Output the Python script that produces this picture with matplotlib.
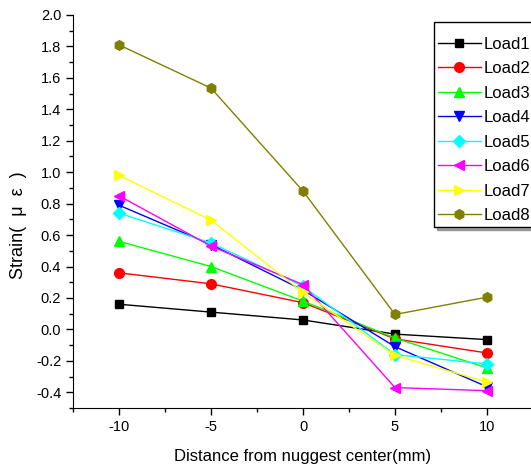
import matplotlib
matplotlib.use('Agg')
import matplotlib.pyplot as plt
from matplotlib.ticker import MultipleLocator

plt.rcParams['font.family'] = ['Liberation Sans', 'DejaVu Sans']

# distance from nugget center (mm)
distance = [-10, -5, 0, 5, 10]

load1 = [0.16, 0.11, 0.06, -0.03, -0.065]
load2 = [0.36, 0.29, 0.17, -0.06, -0.15]
load3 = [0.56, 0.40, 0.18, -0.055, -0.245]
load4 = [0.79, 0.54, 0.25, -0.11, -0.365]
load5 = [0.74, 0.55, 0.275, -0.16, -0.22]
load6 = [0.85, 0.53, 0.285, -0.37, -0.39]
load7 = [0.98, 0.695, 0.235, -0.165, -0.335]
load8 = [1.81, 1.535, 0.88, 0.095, 0.205]

series = [load1, load2, load3, load4, load5, load6, load7, load8]
names = ['Load1', 'Load2', 'Load3', 'Load4', 'Load5', 'Load6', 'Load7', 'Load8']
colors = ['black', 'red', '#00ff00', 'blue', 'cyan', 'magenta', 'yellow', '#808000']
markers = ['s', 'o', '^', 'v', 'D', '<', '>', 'h']
msizes = [6, 7, 7.5, 7.5, 6, 7.5, 7.5, 7]

fig = plt.figure(figsize=(5.31, 4.73), dpi=100)
ax = fig.add_axes([73/531, 65/473, 460/531, 393/473])

for y, name, c, m, ms in zip(series, names, colors, markers, msizes):
    ax.plot(distance, y, color=c, marker=m, markersize=ms, linewidth=1,
            markeredgecolor=c, label=name)

ax.set_xlim(-12.5, 12.5)
ax.set_ylim(-0.5, 2.0)
ax.xaxis.set_major_locator(MultipleLocator(5))
ax.xaxis.set_minor_locator(MultipleLocator(2.5))
ax.yaxis.set_major_locator(MultipleLocator(0.2))
ax.yaxis.set_minor_locator(MultipleLocator(0.1))
ax.tick_params(which='major', direction='out', length=5, width=1, labelsize=10.5)
ax.tick_params(which='minor', direction='out', length=3, width=1)
ax.spines['top'].set_visible(False)
ax.spines['right'].set_visible(False)
ax.xaxis.set_major_formatter(plt.FuncFormatter(lambda v, p: '%d' % v))
ax.yaxis.set_major_formatter(plt.FuncFormatter(lambda v, p: '%.1f' % v))

ax.set_xlabel('Distance from nuggest center(mm)', fontsize=12, labelpad=11)
ax.set_ylabel('Strain(  μ  ε  )', fontsize=13)
ax.yaxis.set_label_coords(-0.1, 0.466)

# blank tiny title gives the extra room above the first entry
leg = fig.legend(loc='upper left', bbox_to_anchor=(434/531, 1 - 22/473),
                 fontsize=12, frameon=True, fancybox=False, shadow=True,
                 edgecolor='black', handlelength=2.55, handletextpad=0.2,
                 labelspacing=0.57, borderpad=0.25, borderaxespad=0,
                 title=' ', title_fontsize=1)
leg.get_frame().set_linewidth(1)

fig.savefig('out.png', dpi=100)
